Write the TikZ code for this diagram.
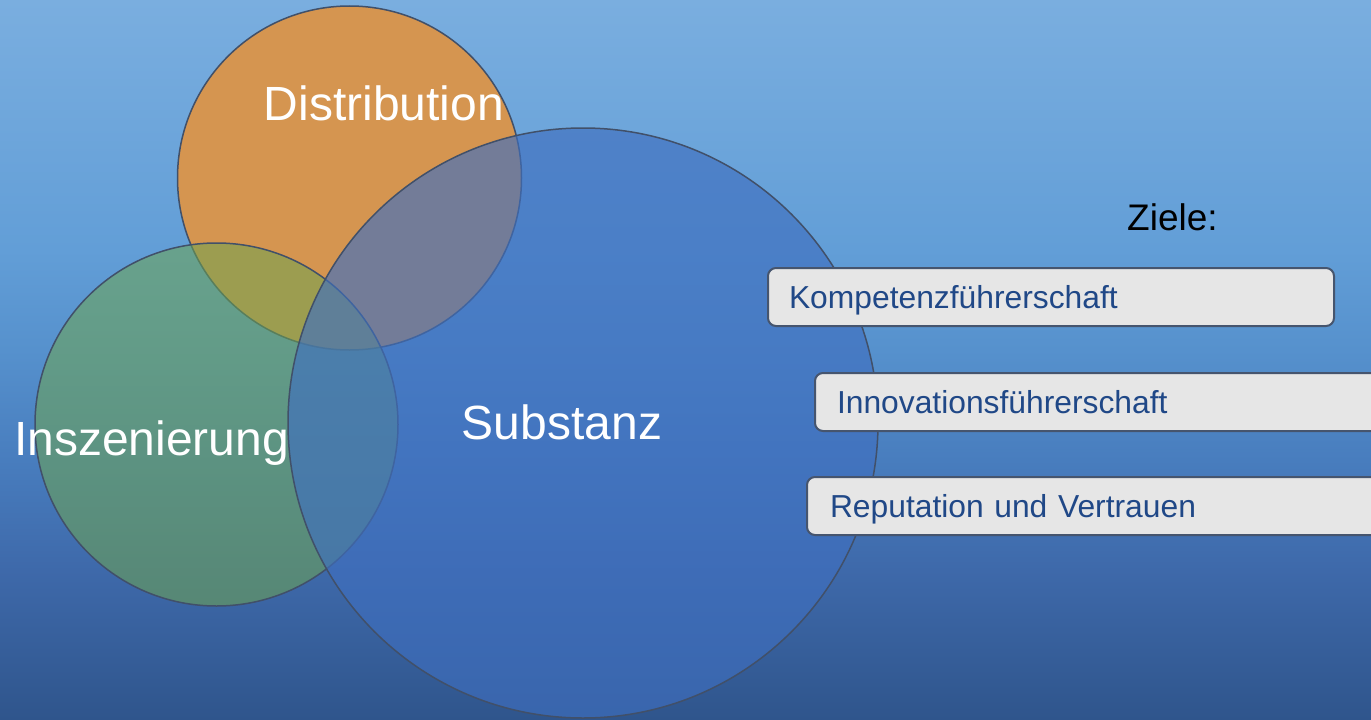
\documentclass[tikz,border=0pt]{standalone}
\usepackage{fontspec}
\setmainfont{Liberation Sans}
\definecolor{bgA}{RGB}{122,174,223}
\definecolor{bgB}{RGB}{98,158,215}
\definecolor{bgC}{RGB}{86,145,205}
\definecolor{bgD}{RGB}{72,125,190}
\definecolor{bgE}{RGB}{62,105,170}
\definecolor{bgF}{RGB}{47,85,140}
\definecolor{orangeC}{RGB}{213,149,80}
\definecolor{greenC}{RGB}{110,165,80}
\definecolor{blueC}{RGB}{63,111,191}
\definecolor{edgeC}{RGB}{65,80,105}
\definecolor{boxFill}{RGB}{230,230,230}
\definecolor{boxEdge}{RGB}{70,85,110}
\definecolor{boxText}{RGB}{32,72,135}
\pgfdeclareverticalshading{bgshade}{100bp}{color(0bp)=(bgF); color(25bp)=(bgF); color(35.42bp)=(bgE); color(43.06bp)=(bgD); color(50.7bp)=(bgC); color(57.64bp)=(bgB); color(75bp)=(bgA); color(100bp)=(bgA)}
\begin{document}
\begin{tikzpicture}[x=1pt,y=-1pt,
  venn/.style={circle, draw=edgeC, line width=1.5pt, inner sep=0pt},
  biglabel/.style={text=white, inner sep=0pt, anchor=base, font=\fontsize{48}{56}\selectfont},
  goalbox/.style={rectangle, rounded corners=8pt, draw=boxEdge, line width=2pt, fill=boxFill,
    text=boxText, font=\fontsize{31.8}{38}\selectfont, anchor=west, align=left,
    minimum height=58pt, text height=22.8pt, text depth=0pt, inner ysep=0pt}]
\useasboundingbox (0,0) rectangle (1371,720);
\shade[shading=bgshade] (0,0) rectangle (1371,720);
% circles
\node (dist) [venn, fill=orangeC, minimum size=344pt] at (349.5,178) {};
\node (insz) [venn, fill=greenC, fill opacity=0.55, minimum size=363pt] at (216.5,424.5) {};
\node (subs) [venn, fill=blueC, fill opacity=0.65, minimum size=590pt] at (583,423) {};
% labels
\node (distL) [biglabel] at (384,120) {Distribution};
\node (subsL) [biglabel] at (562,439) {Substanz};
\node (inszL) [biglabel, anchor=base west] at (14,455) {Inszenierung};
\node (ziele) [inner sep=0pt, anchor=base west, font=\fontsize{37}{44}\selectfont] at (1127,230) {Ziele:};
% goal boxes
\node (g1) [goalbox, text width=524pt, inner xsep=21pt] at (767,297) {Kompetenzführerschaft};
\node (g2) [goalbox, text width=556pt, inner xsep=22pt] at (814,402) {Innovationsführerschaft};
\node (g3) [goalbox, text width=564pt, inner xsep=23pt] at (806,506) {Reputation und Vertrauen};
\end{tikzpicture}
\end{document}
